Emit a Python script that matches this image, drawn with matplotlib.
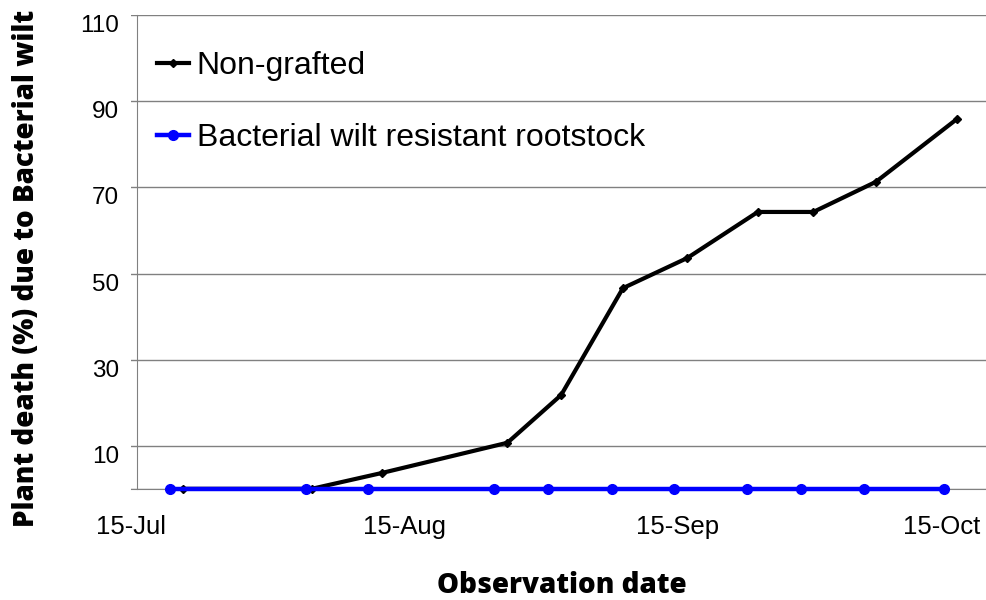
import matplotlib.pyplot as plt
import numpy as np

# days counted from 15-Jul
grafted_days = [4.4, 19.8, 26.9, 41.2, 47.3, 54.6, 61.6, 69.9, 76.0, 83.2, 92.2]
grafted_vals = [0, 0, 0, 0, 0, 0, 0, 0, 0, 0, 0]

nongrafted_days = [5.9, 20.5, 28.5, 42.7, 48.8, 55.8, 63.1, 71.1, 77.4, 84.5, 93.7]
nongrafted_vals = [0, 0, 3.7, 10.7, 21.8, 46.6, 53.6, 64.3, 64.3, 71.3, 85.9]

tick_days = [0, 31, 62, 92]
tick_labels = ['15-Jul', '15-Aug', '15-Sep', '15-Oct']
y_ticks = [0, 10, 30, 50, 70, 90, 110]
y_labels = ['', '10', '30', '50', '70', '90', '110']

plt.rcParams['font.family'] = ['Liberation Sans', 'DejaVu Sans']

fig = plt.figure(figsize=(9.87, 6), dpi=100)
ax = fig.add_axes([0.1327, 0.1853, 0.8673, 0.7894])

ax.plot(nongrafted_days, nongrafted_vals, color='black', lw=3, marker='D',
        ms=4.5, label='Non-grafted', zorder=3, clip_on=False)
ax.plot(grafted_days, grafted_vals, color='#0000ff', lw=3.2, marker='o',
        ms=7, label='Bacterial wilt resistant rootstock', zorder=4, clip_on=False)

ax.set_xlim(0, 97.1)
ax.set_ylim(0, 110)

# spine position first: it resets the ticks
for s in ['top', 'right']:
    ax.spines[s].set_visible(False)
ax.spines['left'].set_position(('data', 0.68))
ax.spines['left'].set_color('#808080')
ax.spines['bottom'].set_color('#808080')

ax.set_yticks(y_ticks)
ax.set_yticklabels(y_labels)
ax.tick_params(axis='y', length=0, pad=13, labelsize=17.5)
for lab in ax.get_yticklabels():
    lab.set_verticalalignment('top')

ax.set_xticks(tick_days)
ax.set_xticklabels(tick_labels)
ax.tick_params(axis='x', length=0, pad=19, labelsize=18.5)

ax.grid(axis='y', color='#808080', lw=1)
ax.set_axisbelow(True)

ax.set_xlabel('Observation date', fontsize=20, fontweight='heavy',
              family=['Open Sans', 'DejaVu Sans'])
ax.xaxis.label.set_verticalalignment('baseline')
ax.xaxis.set_label_coords(0.503, -0.221)
ax.set_ylabel('Plant death (%) due to Bacterial wilt', fontsize=20,
              fontweight='heavy', family=['Open Sans', 'DejaVu Sans'])
ax.yaxis.set_label_coords(-0.105, 0.465)

ax.legend(loc='upper left', bbox_to_anchor=(0.03, 0.924), frameon=False,
          fontsize=23, handlelength=1.0, handletextpad=0.25,
          labelspacing=1.3, borderpad=0, borderaxespad=0)

fig.savefig('out.png', dpi=100)
